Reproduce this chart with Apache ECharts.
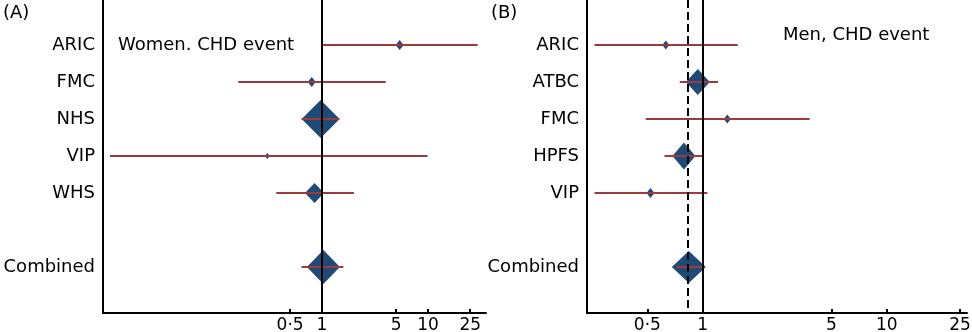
<!DOCTYPE html>
<html>
<head>
<meta charset="utf-8">
<script src="https://cdn.jsdelivr.net/npm/echarts@6/dist/echarts.min.js"></script>
<style>
  html, body { margin: 0; padding: 0; background: #fff; }
  #chart { width: 972px; height: 332px; }
</style>
</head>
<body>
<div id="chart"></div>
<script>
  // panel A: women, CHD event
  const studiesA = ['ARIC', 'FMC', 'NHS', 'VIP', 'WHS']
  const estA = [5.4, 0.8, 0.97, 0.305, 0.85]
  const lowA = [1.0, 0.162, 0.64, 0.01, 0.37]
  const highA = [29.4, 3.99, 1.46, 9.9, 2.0]
  const combinedA = [1.03, 0.64, 1.59]   // est, low, high

  // panel B: men, CHD event
  const studiesB = ['ARIC', 'ATBC', 'FMC', 'HPFS', 'VIP']
  const estB = [0.63, 0.94, 1.36, 0.79, 0.52]
  const lowB = [0.258, 0.75, 0.49, 0.62, 0.258]
  const highB = [1.55, 1.21, 3.81, 0.99, 1.06]
  const combinedB = [0.84, 0.72, 1.02]

  const xTicks = [0.5, 1, 5, 10, 25]

  const font = '"DejaVu Sans", sans-serif'
  const blue = '#1e4a75'
  const red = '#9b3a3f'
  const lg = v => Math.log10(v)

  // marker size (px) per study, last one = combined
  const boxA = [[8, 10], [8, 10], [38, 38], [5, 6], [19, 20], [33, 34]]
  const boxB = [[7, 9], [24, 26], [7, 9], [23, 27], [8, 10], [34, 32]]

  function rowsOf(studies) {
    let rows = studies.map((s, i) => i + 1)
    rows.push(studies.length + 2)
    return rows
  }

  function makeAxes(idx, xmin, xmax, studies) {
    let rows = rowsOf(studies)
    let names = studies.concat(['Combined'])
    let xAxis = {
      type: 'value', gridIndex: idx, min: xmin, max: xmax,
      splitLine: { show: false },
      axisLine: { onZero: false, lineStyle: { color: '#000', width: 2 } },
      axisTick: { inside: true, length: 4, lineStyle: { color: '#000', width: 2 }, customValues: xTicks.map(lg) },
      axisLabel: {
        customValues: xTicks.map(lg), margin: 4, color: '#000', fontSize: 17, fontFamily: font,
        formatter: v => String(Math.round(Math.pow(10, v) * 10) / 10).replace('.', '·')
      }
    }
    let yAxis = {
      type: 'value', gridIndex: idx, inverse: true, min: -0.216, max: 8.243,
      splitLine: { show: false },
      axisTick: { show: false },
      axisLine: { onZero: false, lineStyle: { color: '#000', width: 2 } },
      axisLabel: {
        customValues: rows, margin: 8, color: '#000', fontSize: 18, fontFamily: font,
        formatter: v => names[rows.indexOf(Math.round(v))] || ''
      }
    }
    return [xAxis, yAxis]
  }

  function makeSeries(idx, studies, est, low, high, comb, box, dashed) {
    let rows = rowsOf(studies)
    let pts = est.map((e, i) => ({ value: [lg(e), rows[i]], symbolSize: box[i] }))
    pts.push({ value: [lg(comb[0]), rows[rows.length - 1]], symbolSize: box[box.length - 1] })
    let ci = low.map((l, i) => [lg(l), lg(high[i]), rows[i]])
    ci.push([lg(comb[1]), lg(comb[2]), rows[rows.length - 1]])

    let refLines = [{ xAxis: 0, lineStyle: { type: 'solid' } }]
    if (dashed) refLines.push({ xAxis: lg(comb[0]), lineStyle: { type: [8, 4] } })

    return [{
      type: 'line', xAxisIndex: idx, yAxisIndex: idx, data: [], z: 1,
      markLine: {
        silent: true, symbol: 'none', label: { show: false },
        lineStyle: { color: '#000', width: 2 },
        data: refLines
      }
    }, {
      type: 'scatter', xAxisIndex: idx, yAxisIndex: idx, z: 2,
      symbol: 'diamond', itemStyle: { color: blue, opacity: 1 },
      data: pts
    }, {
      type: 'custom', xAxisIndex: idx, yAxisIndex: idx, z: 3,
      encode: { x: [0, 1], y: 2 },
      renderItem: (params, api) => {
        let p1 = api.coord([api.value(0), api.value(2)])
        let p2 = api.coord([api.value(1), api.value(2)])
        return {
          type: 'line',
          shape: { x1: p1[0], y1: p1[1], x2: p2[0], y2: p2[1] },
          style: { stroke: red, lineWidth: 2 }
        }
      },
      data: ci
    }]
  }

  const axA = makeAxes(0, -2.066, 1.547, studiesA)
  const axB = makeAxes(1, -0.629, 1.436, studiesB)

  const myChart = echarts.init(document.getElementById('chart'))
  myChart.setOption({
    animation: false,
    grid: [
      { left: 103, top: 0, width: 383, height: 313, outerBoundsMode: 'none' },
      { left: 587, top: 0, width: 380, height: 313, outerBoundsMode: 'none' }
    ],
    xAxis: [axA[0], axB[0]],
    yAxis: [axA[1], axB[1]],
    graphic: [
      { type: 'text', x: 3, y: 13, style: { text: '(A)', font: '18px ' + font, fill: '#000', verticalAlign: 'middle' } },
      { type: 'text', x: 491, y: 13, style: { text: '(B)', font: '18px ' + font, fill: '#000', verticalAlign: 'middle' } },
      { type: 'text', x: 118, y: 45, style: { text: 'Women. CHD event', font: '18px ' + font, fill: '#000', verticalAlign: 'middle' } },
      { type: 'text', x: 783, y: 35, style: { text: 'Men, CHD event', font: '18px ' + font, fill: '#000', verticalAlign: 'middle' } }
    ],
    series: makeSeries(0, studiesA, estA, lowA, highA, combinedA, boxA, false)
      .concat(makeSeries(1, studiesB, estB, lowB, highB, combinedB, boxB, true))
  })
</script>
</body>
</html>
